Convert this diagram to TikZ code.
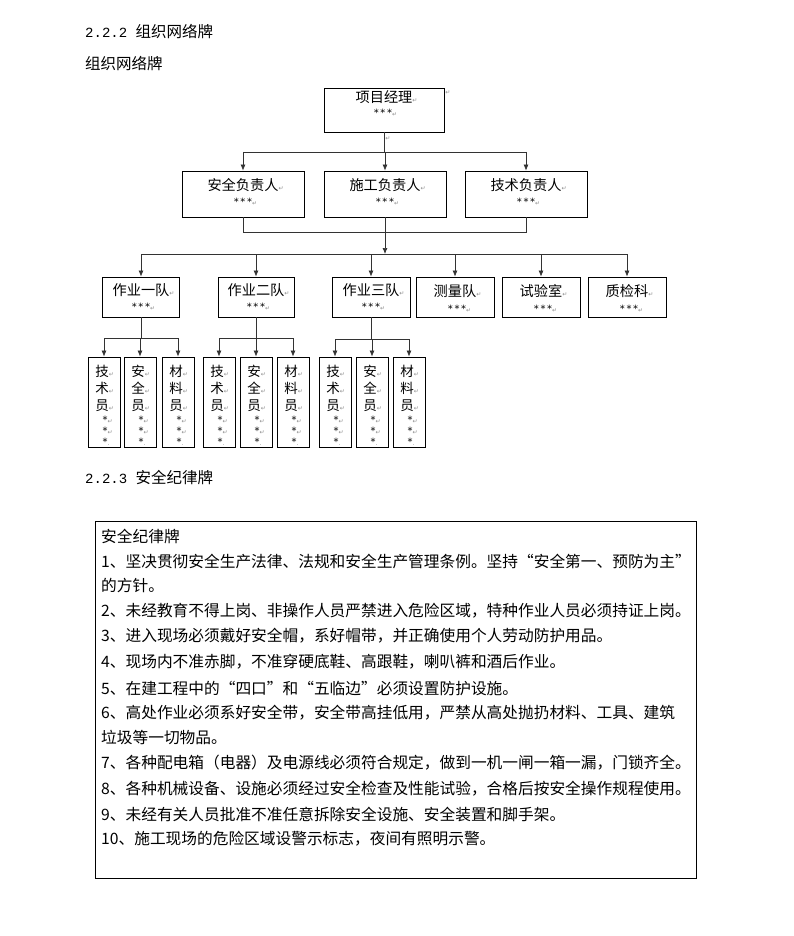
\documentclass[tikz,border=0pt]{standalone}
\usepackage{fontspec}
\setmainfont{Noto Sans CJK SC}
\newfontfamily\dejavu{DejaVu Sans}
\newfontfamily\monofnt{Liberation Mono}
\usetikzlibrary{arrows.meta}
\newcommand\pmk{\rlap{\fontsize{6}{6}\selectfont\color{black!45}\dejavu ↵}}
\newcommand\pmd{\rlap{\fontsize{6}{6}\selectfont\color{black!45}\dejavu .}}
\newcommand\member[5]{%
  \node[box, minimum width=32pt, minimum height=90pt] (#1) at (#2,402) {};
  \node[vch] (#1-a) at ({#2-2},371) {#3\pmk};
  \node[vch] (#1-b) at ({#2-2},388) {#4\pmk};
  \node[vch] (#1-c) at ({#2-2},406) {#5\pmk};
  \node[onestar] (#1-s1) at ({#2+1},420) {*\pmk};
  \node[onestar] (#1-s2) at ({#2+1},431) {*\pmk};
  \node[onestar] (#1-s3) at ({#2+1},442) {*\pmd};
}
\begin{document}
\begin{tikzpicture}[x=1pt, y=-1pt,
  box/.style={draw=black, line width=0.8pt, inner sep=0pt, fill=white},
  lbl/.style={inner sep=0pt, font=\fontsize{14.2}{14.2}\selectfont},
  vch/.style={inner sep=0pt, font=\fontsize{13.5}{13.5}\selectfont},
  stars/.style={inner sep=0pt, font=\dejavu\fontsize{10}{10}\selectfont},
  onestar/.style={inner sep=0pt, font=\dejavu\fontsize{10}{10}\selectfont},
  link/.style={draw=black!80, line width=0.7pt},
  arr/.style={link, -{Latex[length=6pt,width=5pt]}},
  hd/.style={anchor=west, inner sep=0pt, font=\fontsize{15.5}{15.5}\selectfont},
  body/.style={anchor=west, inner sep=0pt, font=\fontsize{15.7}{15.7}\selectfont},
  pmark/.style={inner sep=0pt, font=\dejavu\fontsize{6}{6}\selectfont, text=black!45}
]
\fill[white] (0,0) rectangle (793,936);
\useasboundingbox (0,0) rectangle (793,936);

% headings
\node[hd] (h1) at (85,32) {{\monofnt\fontsize{14}{14}\selectfont 2.2.2 }组织网络牌};
\node[hd] (h2) at (85,64) {组织网络牌};
\node[hd] (h3) at (85,478) {{\monofnt\fontsize{14}{14}\selectfont 2.2.3 }安全纪律牌};

% top box
\node[box, minimum width=120pt, minimum height=44pt] (pm) at (384,110) {};
\node[lbl] (pm-a) at (384,97) {项目经理\pmk};
\node[stars] (pm-b) at (383,113) {*\,*\,*\pmk};
\node[pmark] (pm-x) at (448,93) {↵};
\node[pmark] (pm-y) at (388,139) {↵};

% second row
\node[box, minimum width=122pt, minimum height=46pt] (sa) at (243,194) {};
\node[box, minimum width=122pt, minimum height=46pt] (sg) at (385,194) {};
\node[box, minimum width=122pt, minimum height=46pt] (js) at (526,194) {};
\node[lbl] (sa-a) at (243,185) {安全负责人\pmk};
\node[lbl] (sg-a) at (385,185) {施工负责人\pmk};
\node[lbl] (js-a) at (526,185) {技术负责人\pmk};
\node[stars] (sa-b) at (243,202) {*\,*\,*\pmk};
\node[stars] (sg-b) at (385,202) {*\,*\,*\pmk};
\node[stars] (js-b) at (526,202) {*\,*\,*\pmk};

% third row
\node[box, minimum width=77pt, minimum height=40pt] (t1) at (141,297) {};
\node[box, minimum width=76pt, minimum height=40pt] (t2) at (256,297) {};
\node[box, minimum width=78pt, minimum height=40pt] (t3) at (371,297) {};
\node[box, minimum width=78pt, minimum height=40pt] (cl) at (455,297) {};
\node[box, minimum width=78pt, minimum height=40pt] (sy) at (541,297) {};
\node[box, minimum width=78pt, minimum height=40pt] (zj) at (627,297) {};
\node[lbl] (t1-a) at (141,290) {作业一队\pmk};
\node[lbl] (t2-a) at (256,290) {作业二队\pmk};
\node[lbl] (t3-a) at (371,290) {作业三队\pmk};
\node[lbl] (cl-a) at (455,291) {测量队\pmk};
\node[lbl] (sy-a) at (541,291) {试验室\pmk};
\node[lbl] (zj-a) at (627,291) {质检科\pmk};
\node[stars] (t1-b) at (141,307) {*\,*\,*\pmk};
\node[stars] (t2-b) at (256,307) {*\,*\,*\pmk};
\node[stars] (t3-b) at (371,307) {*\,*\,*\pmk};
\node[stars] (cl-b) at (457,309) {*\,*\,*\pmk};
\node[stars] (sy-b) at (543,309) {*\,*\,*\pmk};
\node[stars] (zj-b) at (629,309) {*\,*\,*\pmk};

% fourth row
\member{m11}{104}{技}{术}{员}
\member{m12}{140}{安}{全}{员}
\member{m13}{178}{材}{料}{员}
\member{m21}{219}{技}{术}{员}
\member{m22}{256}{安}{全}{员}
\member{m23}{293}{材}{料}{员}
\member{m31}{335}{技}{术}{员}
\member{m32}{372}{安}{全}{员}
\member{m33}{409}{材}{料}{员}

% connectors: level 1
\coordinate (b1L) at (243,152);
\coordinate (b1R) at (526,152);
\draw[link] (pm.south) -- (pm.south |- b1L);
\draw[link] (b1L) -- (b1R);
\draw[arr] (b1L) -- (sa.north);
\draw[arr] (sg.north |- b1L) -- (sg.north);
\draw[arr] (b1R) -- (js.north);

% level 2
\coordinate (b2L) at (243,232);
\coordinate (b2R) at (526,232);
\draw[link] (sa.south) -- (b2L) -- (b2R) -- (js.south);
\coordinate (b3L) at (141,254);
\coordinate (b3R) at (627,254);
\draw[arr] (sg.south) -- (sg.south |- b3L);
\draw[link] (b3L) -- (b3R);
\draw[arr] (b3L) -- (t1.north);
\draw[arr] (t2.north |- b3L) -- (t2.north);
\draw[arr] (t3.north |- b3L) -- (t3.north);
\draw[arr] (cl.north |- b3L) -- (cl.north);
\draw[arr] (sy.north |- b3L) -- (sy.north);
\draw[arr] (b3R) -- (zj.north);

% level 3
\coordinate (g1L) at (104,338);
\coordinate (g1R) at (178,338);
\draw[link] (t1.south) -- (t1.south |- g1L);
\draw[link] (g1L) -- (g1R);
\draw[arr] (g1L) -- (m11.north);
\draw[arr] (m12.north |- g1L) -- (m12.north);
\draw[arr] (g1R) -- (m13.north);

\coordinate (g2L) at (219,338);
\coordinate (g2R) at (293,338);
\draw[link] (t2.south) -- (t2.south |- g2L);
\draw[link] (g2L) -- (g2R);
\draw[arr] (g2L) -- (m21.north);
\draw[arr] (m22.north |- g2L) -- (m22.north);
\draw[arr] (g2R) -- (m23.north);

\coordinate (g3L) at (335,339);
\coordinate (g3R) at (409,339);
\draw[link] (t3.south) -- (t3.south |- g3L);
\draw[link] (g3L) -- (g3R);
\draw[arr] (g3L) -- (m31.north);
\draw[arr] (m32.north |- g3L) -- (m32.north);
\draw[arr] (g3R) -- (m33.north);

% rules box
\node[draw=black, line width=0.8pt, inner sep=0pt, minimum width=601pt, minimum height=357pt, anchor=north west] (rules) at (95,521) {};
\node[body] (r0) at (101,536) {安全纪律牌};
\node[body] (r1) at (101,561) {1、坚决贯彻安全生产法律、法规和安全生产管理条例。坚持“安全第一、预防为主”};
\node[body] (r1b) at (101,585) {的方针。};
\node[body] (r2) at (101,611) {2、未经教育不得上岗、非操作人员严禁进入危险区域，特种作业人员必须持证上岗。};
\node[body] (r3) at (101,636) {3、进入现场必须戴好安全帽，系好帽带，并正确使用个人劳动防护用品。};
\node[body] (r4) at (101,662) {4、现场内不准赤脚，不准穿硬底鞋、高跟鞋，喇叭裤和酒后作业。};
\node[body] (r5) at (101,688) {5、在建工程中的“四口”和“五临边”必须设置防护设施。};
\node[body] (r6) at (101,713) {6、高处作业必须系好安全带，安全带高挂低用，严禁从高处抛扔材料、工具、建筑};
\node[body] (r6b) at (101,737) {垃圾等一切物品。};
\node[body] (r7) at (101,763) {7、各种配电箱（电器）及电源线必须符合规定，做到一机一闸一箱一漏，门锁齐全。};
\node[body] (r8) at (101,789) {8、各种机械设备、设施必须经过安全检查及性能试验，合格后按安全操作规程使用。};
\node[body] (r9) at (101,814) {9、未经有关人员批准不准任意拆除安全设施、安全装置和脚手架。};
\node[body] (r10) at (101,839) {10、施工现场的危险区域设警示标志，夜间有照明示警。};
\end{tikzpicture}
\end{document}
